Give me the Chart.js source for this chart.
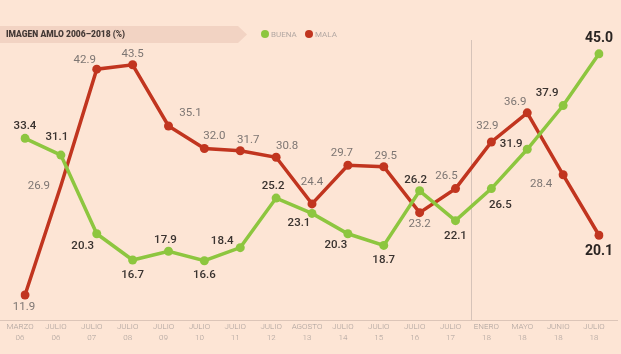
<!DOCTYPE html>
<html>
<head>
<meta charset="utf-8">
<script src="https://cdn.jsdelivr.net/npm/chart.js@4.4.1/dist/chart.umd.min.js"></script>
<style>
  html, body { margin: 0; padding: 0; background: #fde5d5; }
  #wrap { width: 621px; height: 354px; position: relative; }
</style>
</head>
<body>
<div id="wrap"><canvas id="imagen"></canvas></div>
<script>
// data
const categories = [
    ["MARZO", "06"], ["JULIO", "06"], ["JULIO", "07"], ["JULIO", "08"], ["JULIO", "09"],
    ["JULIO", "10"], ["JULIO", "11"], ["JULIO", "12"], ["AGOSTO", "13"], ["JULIO", "14"],
    ["JULIO", "15"], ["JULIO", "16"], ["JULIO", "17"], ["ENERO", "18"], ["MAYO", "18"],
    ["JUNIO", "18"], ["JULIO", "18"],
];
const buena = [33.4, 31.1, 20.3, 16.7, 17.9, 16.6, 18.4, 25.2, 23.1, 20.3, 18.7, 26.2, 22.1, 26.5, 31.9, 37.9, 45.0];
const mala = [11.9, 26.9, 42.9, 43.5, 35.1, 32.0, 31.7, 30.8, 24.4, 29.7, 29.5, 23.2, 26.5, 32.9, 36.9, 28.4, 20.1];

// label offsets (dx, dy) from each point
const buenaOffsets = [
    [0, -12], [-4, -18], [-14, 12], [0, 15], [-3, -11], [0, 14], [-18, -7], [-3, -12], [-13, 10],
    [-12, 11], [0, 15], [-4, -11], [0, 15], [9, 17], [-16, -5], [-16, -12], [0, -15],
];
const malaOffsets = [
    [-1, 12], [-22, 0], [-12, -9], [0, -11], [22, -13], [10, -12], [8, -11], [11, -11], [0, -22],
    [-6, -12], [2, -11], [0, 11], [-9, -12], [-4, -16], [-12, -11], [-22, 9], [0, 16],
];

const GREEN = "#8dc63f";
const RED = "#c1351f";
const FONT = "Roboto, 'Liberation Sans', sans-serif";

const decorPlugin = {
    id: "decor",
    beforeDraw(chart) {
        const ctx = chart.ctx;
        const x = chart.scales.x;
        ctx.save();
        // banner
        ctx.fillStyle = "#f2d3c3";
        ctx.beginPath();
        ctx.moveTo(0, 26);
        ctx.lineTo(238, 26);
        ctx.lineTo(247, 34.5);
        ctx.lineTo(238, 43);
        ctx.lineTo(0, 43);
        ctx.closePath();
        ctx.fill();
        ctx.fillStyle = "#443936";
        ctx.font = "900 8.5px " + FONT;
        ctx.textBaseline = "middle";
        ctx.fillText("IMAGEN AMLO 2006–2018 (%)", 6, 34.5);
        // legend
        ctx.font = "8px " + FONT;
        ctx.fillStyle = GREEN;
        ctx.beginPath(); ctx.arc(265, 34, 4, 0, Math.PI * 2); ctx.fill();
        ctx.fillStyle = "#b3a8a3";
        ctx.fillText("BUENA", 271, 34.5);
        ctx.fillStyle = RED;
        ctx.beginPath(); ctx.arc(309, 34, 4, 0, Math.PI * 2); ctx.fill();
        ctx.fillStyle = "#b3a8a3";
        ctx.fillText("MALA", 315, 34.5);
        // axis line
        ctx.strokeStyle = "#dcc5b8";
        ctx.lineWidth = 1;
        ctx.beginPath();
        ctx.moveTo(0, 320.5);
        ctx.lineTo(618, 320.5);
        ctx.stroke();
        // separator between 2017 and 2018
        const sx = Math.round((x.getPixelForValue(12) + x.getPixelForValue(13)) / 2) - 1.5;
        ctx.strokeStyle = "#d6c3b9";
        ctx.beginPath();
        ctx.moveTo(sx, 40);
        ctx.lineTo(sx, 320);
        ctx.stroke();
        // tick labels
        ctx.fillStyle = "#a89e9a";
        ctx.font = "300 8px " + FONT;
        ctx.textAlign = "center";
        categories.forEach((c, i) => {
            const px = x.getPixelForValue(i) - 5;
            ctx.fillText(c[0], px, 327);
            ctx.fillText(c[1], px, 338);
        });
        ctx.restore();
    },
    afterDatasetsDraw(chart) {
        const ctx = chart.ctx;
        ctx.save();
        ctx.textAlign = "center";
        ctx.textBaseline = "middle";
        const last = categories.length - 1;
        const sets = [
            { idx: 0, offs: buenaOffsets, color: "#3a3330", weight: "500" },
            { idx: 1, offs: malaOffsets, color: "#7d7673", weight: "400" },
        ];
        sets.forEach(s => {
            const meta = chart.getDatasetMeta(s.idx);
            const vals = chart.data.datasets[s.idx].data;
            meta.data.forEach((pt, i) => {
                const o = s.offs[i];
                if (i === last) {
                    ctx.font = "bold 14px " + FONT;
                    ctx.fillStyle = "#2a2422";
                } else {
                    ctx.font = s.weight + " 11.5px " + FONT;
                    ctx.fillStyle = s.color;
                }
                ctx.fillText(vals[i].toFixed(1), pt.x + o[0], pt.y + o[1]);
            });
        });
        ctx.restore();
    },
};

const data = {
    labels: categories,
    datasets: [
        {
            label: "BUENA",
            data: buena,
            borderColor: GREEN,
            backgroundColor: GREEN,
            borderWidth: 3.5,
            pointRadius: 4.5,
            pointBorderWidth: 0,
        },
        {
            label: "MALA",
            data: mala,
            borderColor: RED,
            backgroundColor: RED,
            borderWidth: 3.5,
            // the 2006 July marker is not drawn in the original
            pointRadius: mala.map((v, i) => (i === 1 ? 0 : 4.5)),
            pointBorderWidth: 0,
        },
    ],
};

// config
const config = {
    type: "line",
    data,
    options: {
        responsive: true,
        maintainAspectRatio: false,
        animation: false,
        layout: { padding: { left: 25, right: 22, top: 40, bottom: 36 } },
        scales: {
            x: { display: false, offset: false },
            y: { display: false, min: 8.74, max: 46.9 },
        },
        plugins: {
            legend: { display: false },
            tooltip: { enabled: false },
        },
    },
    plugins: [decorPlugin],
};

const chartImagen = document.getElementById("imagen");
const myChartImagen = new Chart(chartImagen, config);
</script>
</body>
</html>
